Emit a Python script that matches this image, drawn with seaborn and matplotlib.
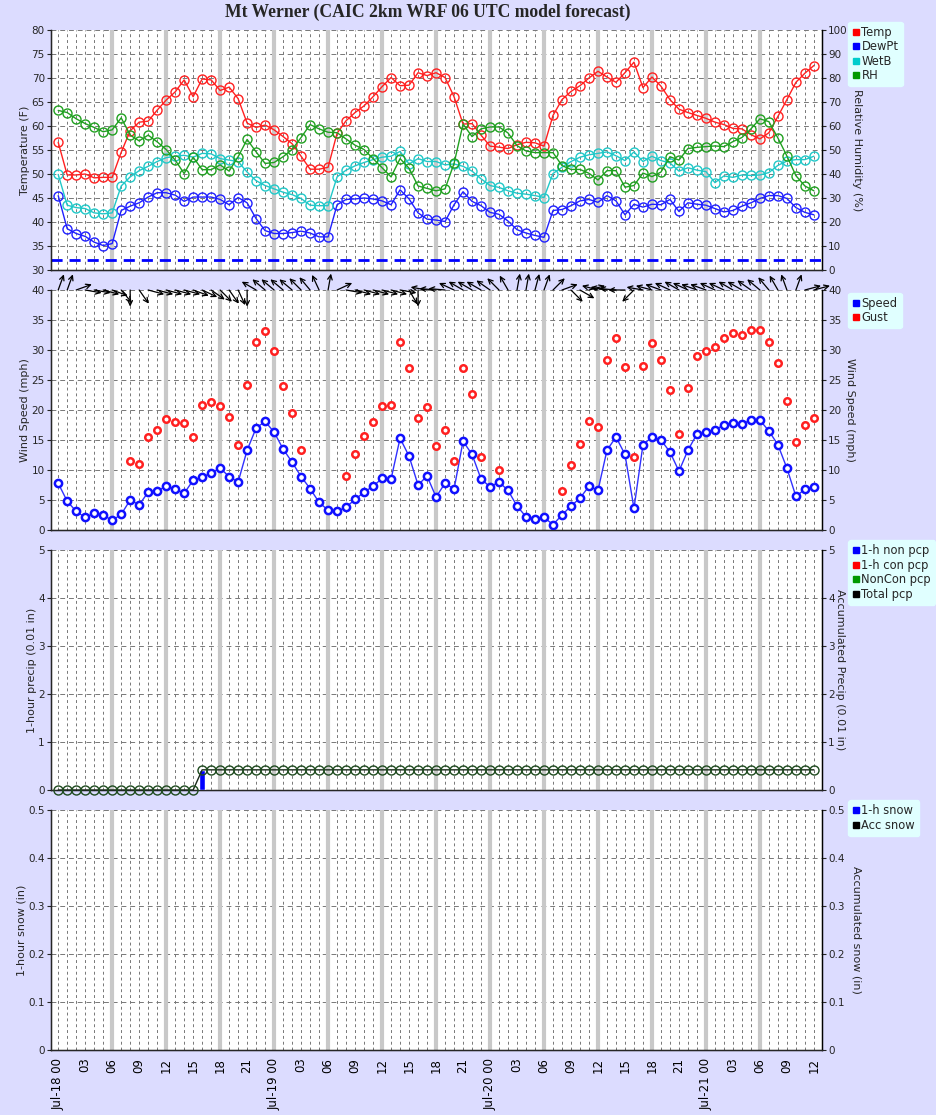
import numpy as np
import pandas as pd
import matplotlib
matplotlib.use('Agg')
import matplotlib.pyplot as plt
import seaborn as sns
from matplotlib.lines import Line2D
from matplotlib.transforms import offset_copy

hours = list(range(85))

temp = [56.6, 49.8, 49.8, 50.0, 49.2, 49.3, 49.3, 54.5, 59.0, 60.8, 61.0, 63.3, 65.4, 67.1, 69.6, 66.1, 69.8,
        69.6, 67.4, 68.1, 65.7, 60.6, 59.7, 60.2, 59.2, 57.8, 56.3, 53.7, 51.0, 51.0, 51.4, 58.5, 61.1, 62.8,
        64.2, 66.1, 68.2, 70.1, 68.4, 68.5, 71.1, 70.5, 71.1, 70.1, 66.1, 60.4, 60.5, 58.1, 55.8, 55.6, 55.3,
        56.1, 56.6, 56.5, 55.8, 62.2, 65.5, 67.2, 68.4, 70.0, 71.4, 70.2, 69.1, 71.1, 73.3, 68.0, 70.2, 68.3,
        65.5, 63.5, 62.8, 62.2, 61.6, 60.8, 60.3, 59.5, 59.4, 58.2, 57.3, 58.6, 62.0, 65.5, 69.1, 71.0, 72.6]
dewpt = [45.5, 38.6, 37.6, 37.0, 35.8, 35.1, 35.5, 42.4, 43.3, 44.0, 45.2, 46.1, 46.1, 45.6, 44.3, 45.2, 45.2,
         45.2, 44.7, 43.6, 45.1, 44.0, 40.7, 38.2, 37.6, 37.6, 37.8, 38.1, 37.7, 36.9, 36.9, 43.6, 44.7, 44.8,
         45.0, 44.8, 44.4, 43.6, 46.7, 44.8, 41.9, 40.6, 40.4, 40.1, 43.6, 46.3, 44.3, 43.4, 42.0, 41.6, 40.2,
         38.4, 37.7, 37.2, 36.8, 42.4, 42.6, 43.4, 44.4, 44.7, 44.1, 45.5, 44.4, 41.5, 43.7, 43.1, 43.7, 43.6,
         44.7, 42.2, 44.0, 43.7, 43.5, 42.8, 42.1, 42.4, 43.3, 44.0, 44.9, 45.5, 45.5, 44.9, 43.0, 42.0, 41.5]
wetb = [49.9, 43.5, 43.0, 42.8, 41.9, 41.7, 41.9, 47.5, 49.4, 50.7, 51.6, 52.6, 53.4, 53.7, 53.9, 53.5, 54.3,
        54.2, 53.2, 52.9, 52.6, 50.4, 48.6, 47.6, 46.9, 46.2, 45.7, 44.9, 43.5, 43.4, 43.4, 49.4, 50.8, 51.7,
        52.4, 53.0, 53.5, 53.7, 54.7, 52.1, 53.2, 52.6, 52.6, 51.9, 52.1, 51.6, 50.6, 49.0, 47.6, 47.2, 46.5,
        46.0, 45.8, 45.5, 45.1, 50.1, 51.4, 52.6, 53.5, 54.0, 54.3, 54.6, 53.8, 52.8, 54.6, 52.6, 53.7, 52.8,
        52.3, 50.6, 51.3, 50.8, 50.5, 48.2, 49.6, 49.3, 49.8, 49.7, 49.8, 50.3, 51.8, 52.7, 53.0, 53.0, 53.7]
rh = [66.5, 65.6, 63.0, 61.0, 59.4, 57.6, 58.4, 63.4, 56.2, 53.8, 56.2, 53.4, 50.2, 45.8, 40.2, 47.0, 41.8,
      41.8, 43.8, 41.2, 47.2, 54.4, 49.2, 44.4, 44.8, 47.2, 50.2, 55.2, 60.6, 58.8, 57.4, 57.2, 54.6, 52.0,
      50.2, 46.4, 42.6, 38.8, 46.4, 42.4, 35.0, 34.0, 33.0, 33.8, 44.4, 60.8, 55.6, 58.8, 59.6, 59.6, 57.1,
      51.8, 49.6, 48.9, 48.9, 48.9, 43.5, 41.9, 41.9, 40.3, 37.5, 41.4, 41.4, 34.5, 35.2, 40.4, 38.9, 40.8,
      47.2, 45.8, 50.6, 51.1, 51.4, 51.7, 51.4, 53.5, 55.2, 58.8, 63.0, 61.8, 55.0, 47.5, 39.3, 35.0, 33.0]
freezing = 32.0

speed = [7.8, 4.8, 3.1, 2.1, 2.8, 2.5, 1.6, 2.6, 5.0, 4.2, 6.3, 6.5, 7.3, 6.8, 6.1, 8.3, 8.8, 9.5, 10.3, 8.9,
         8.0, 13.3, 17.0, 18.1, 16.3, 13.5, 11.3, 8.9, 6.9, 4.6, 3.3, 3.1, 3.8, 5.1, 6.3, 7.3, 8.6, 8.5, 15.3,
         12.3, 7.5, 9.0, 5.5, 7.8, 6.8, 14.8, 12.6, 8.5, 7.2, 8.0, 6.6, 4.0, 2.2, 1.8, 2.1, 0.9, 2.5, 4.0, 5.3,
         7.3, 6.6, 13.3, 15.5, 12.6, 3.6, 14.2, 15.5, 15.0, 13.0, 9.8, 13.3, 16.0, 16.3, 16.7, 17.5, 17.9, 17.7,
         18.3, 18.3, 16.5, 14.2, 10.3, 5.6, 6.8, 7.1]
nan = np.nan
gust = [nan, nan, nan, nan, nan, nan, nan, nan, 11.5, 11.0, 15.5, 16.7, 18.5, 18.0, 17.8, 15.5, 20.8, 21.3,
        20.7, 18.8, 14.2, 24.2, 31.3, 33.1, 29.8, 24.0, 19.5, 13.3, nan, nan, nan, nan, 9.0, 12.7, 15.7, 18.0,
        20.7, 20.8, 31.3, 27.0, 18.7, 20.5, 14.0, 16.7, 11.5, 27.0, 22.7, 12.1, nan, 10.0, nan, nan, nan, nan,
        nan, nan, 6.5, 10.8, 14.3, 18.2, 17.2, 28.4, 32.0, 27.2, 12.1, 27.4, 31.2, 28.4, 23.3, 16.0, 23.6,
        29.0, 29.9, 30.5, 32.0, 32.8, 32.5, 33.4, 33.4, 31.4, 27.9, 21.5, 14.7, 17.5, 18.7]
# arrow direction on screen, degrees (0 = pointing right, 90 = up)
wdir = [70, 70, 20, -10, -10, -15, -20, -50, -90, -55, -15, -15, -15, -15, -15, -20, -25, -35, -45, -55,
        -65, -90, 150, 140, 140, 140, 140, 135, 130, 115, 80, 25, -10, -15, -15, -15, -15, -15, -10, -60,
        -90, 170, 175, 175, 155, 150, 150, 150, 145, 135, 120, 80, 80, 75, 70, 45, 20, -45, -30, 15, 165,
        170, 175, 180, -135, 170, 165, 160, 155, 150, 155, 160, 160, 155, 155, 150, 150, 145, 140, 130, 120,
        110, 70, 15, 15]

pcp_non = [0.0] * 16 + [0.42] + [0.0] * 68
pcp_total = [0.0] * 16 + [0.42] * 69

xtick_pos = list(range(0, 85, 3))
xtick_labels = ['Jul-18 00', '03', '06', '09', '12', '15', '18', '21',
                'Jul-19 00', '03', '06', '09', '12', '15', '18', '21',
                'Jul-20 00', '03', '06', '09', '12', '15', '18', '21',
                'Jul-21 00', '03', '06', '09', '12']

BG = '#DCDCFF'
sns.set_style('white')
plt.rcParams['font.family'] = ['DejaVu Sans']
plt.rcParams['font.size'] = 7.5
plt.rcParams['axes.labelsize'] = 8

fig = plt.figure(figsize=(9.37, 11.15), dpi=100, facecolor=BG)
L, W, H = 51 / 937, 771 / 937, 240 / 1115
axes = [fig.add_axes([L, 1 - (t + 240) / 1115, W, H]) for t in [30, 290, 550, 810]]


def frame(ax, lo, hi, step, lab, rlo, rhi, rstep, rlab, lpad, rpad, fmt='{:g}'):
    ax.set_facecolor('white')
    ax.set_xlim(-0.8, 84.9)
    ax.set_ylim(lo, hi)
    yt = np.round(np.arange(lo, hi + step / 2, step), 3)
    ax.set_yticks(yt)
    ax.set_yticklabels([fmt.format(v) for v in yt])
    for h in hours:
        if h % 6 == 0 and 0 < h < 84:
            ax.axvline(h, color='#C8C8C8', lw=3, zorder=0.5)
        else:
            ax.axvline(h, color='#777777', lw=0.7, ls=(0, (3, 3)), zorder=0.4)
    for v in yt[1:]:
        ax.axhline(v, color='#777777', lw=0.7, ls=(0, (5, 4)), zorder=0.4)
    ax.set_xticks(xtick_pos)
    ax.set_xticks(hours, minor=True)
    ax.set_xticklabels([])
    ax.tick_params(axis='x', which='both', direction='inout', length=7, width=0.8, colors='black')
    ax.tick_params(axis='y', direction='out', length=3, width=0.8, pad=1.5, labelsize=7.5)
    ax.set_ylabel(lab, labelpad=lpad)
    for s in ['left', 'bottom', 'right']:
        ax.spines[s].set_color('black')
        ax.spines[s].set_linewidth(1)
    ax.spines['top'].set_visible(False)
    tw = ax.twinx()
    tw.set_ylim(rlo, rhi)
    rt = np.round(np.arange(rlo, rhi + rstep / 2, rstep), 3)
    tw.set_yticks(rt)
    tw.set_yticklabels([fmt.format(v) for v in rt])
    tw.tick_params(axis='y', direction='out', length=3, width=0.8, pad=1.5, labelsize=7.5)
    tw.set_ylabel(rlab, rotation=270, labelpad=rpad)
    tw.spines['top'].set_visible(False)
    tw.spines['right'].set_color('black')
    return tw


def legend(ax, items, y):
    hs = [Line2D([], [], marker='s', ls='none', color=c, markersize=5, label=n) for n, c in items]
    lg = ax.legend(handles=hs, loc='upper left', bbox_to_anchor=(1.034, y), borderaxespad=0,
                   frameon=True, facecolor='#E0FFFF', edgecolor='#E0FFFF', fancybox=True,
                   handletextpad=0.1, handlelength=0.7, labelspacing=0.12, fontsize=8.3, borderpad=0.35)
    lg.get_frame().set_alpha(1)


# panel 1: temperatures and RH
ax1 = axes[0]
tw1 = frame(ax1, 30, 80, 5, 'Temperature (F)', 0, 100, 10, 'Relative Humidity (%)', 1, 10)
ax1.axhline(freezing, color='#0000FF', lw=2, ls=(0, (4, 2.5)), zorder=2)
series = [(temp, '#FF2020'), (dewpt, '#2020FF'), (wetb, '#20C8C8')]
for vals, c in series:
    sns.lineplot(x=hours, y=vals, ax=ax1, color=c, lw=1, marker='o', markersize=6.5,
                 markerfacecolor='none', markeredgecolor=c, markeredgewidth=1, zorder=3)
sns.lineplot(x=hours, y=rh, ax=tw1, color='#20A020', lw=1, marker='o', markersize=6.5,
             markerfacecolor='none', markeredgecolor='#20A020', markeredgewidth=1, zorder=3)
legend(tw1, [('Temp', '#FF0000'), ('DewPt', '#0000FF'), ('WetB', '#00CCCC'), ('RH', '#009900')], 1.033)

# panel 2: wind
ax2 = axes[1]
tw2 = frame(ax2, 0, 40, 5, 'Wind Speed (mph)', 0, 40, 5, 'Wind Speed (mph)', 1, 10)
sns.lineplot(x=hours, y=speed, ax=ax2, color='#3030FF', lw=1, marker='o', markersize=5.2,
             markerfacecolor='white', markeredgecolor='#1010FF', markeredgewidth=1.8, zorder=3)
gdf = pd.DataFrame({'h': hours, 'g': gust}).dropna()
sns.scatterplot(data=gdf, x='h', y='g', ax=ax2, color='white', edgecolor='#FF2020', s=22,
                linewidth=1.8, zorder=3)
for h, d in zip(hours, wdir):
    dx = 12 * np.cos(np.radians(d))
    dy = 12 * np.sin(np.radians(d))
    tr = offset_copy(ax2.transData, fig=fig, x=dx, y=dy, units='points')
    ax2.annotate('', xy=(h, 40), xycoords=tr, xytext=(h, 40), textcoords='data',
                 annotation_clip=False,
                 arrowprops=dict(arrowstyle='->,head_length=0.45,head_width=0.22', lw=0.9,
                                 color='black', shrinkA=0, shrinkB=0))
legend(tw2, [('Speed', '#0000FF'), ('Gust', '#FF0000')], 0.9875)

# panel 3: precip
ax3 = axes[2]
tw3 = frame(ax3, 0, 5, 1, '1-hour precip (0.01 in)', 0, 5, 1, 'Accumulated Precip (0.01 in)', 1, 7)
ax3.bar(hours, pcp_non, width=0.6, color='#0000FF', zorder=3)
sns.lineplot(x=hours, y=pcp_total, ax=tw3, color='#1A2A1A', lw=1, marker='o', markersize=6.5,
             markerfacecolor='none', markeredgecolor='#1E4A1E', markeredgewidth=1, zorder=3, clip_on=False)
legend(tw3, [('1-h non pcp', '#0000FF'), ('1-h con pcp', '#FF0000'), ('NonCon pcp', '#009900'),
             ('Total pcp', '#000000')], 1.04)

# panel 4: snow
ax4 = axes[3]
tw4 = frame(ax4, 0, 0.5, 0.1, '1-hour snow (in)', 0, 0.5, 0.1, 'Accumulated snow (in)', 1, 12)
legend(tw4, [('1-h snow', '#0000FF'), ('Acc snow', '#000000')], 1.04)
ax4.set_xticklabels(xtick_labels, rotation=90, fontsize=8.5)
ax4.tick_params(axis='x', which='major', pad=2)

for a in axes:
    a.set_xlabel('')
for t in [tw1, tw2, tw3, tw4]:
    t.set_xlabel('')

fig.text(428 / 937, 1 - 12 / 1115, 'Mt Werner (CAIC 2km WRF 06 UTC model forecast)', ha='center',
         va='center', fontsize=12.7, fontweight='bold', family='Liberation Serif')

fig.savefig('out.png', dpi=100, facecolor=BG)
